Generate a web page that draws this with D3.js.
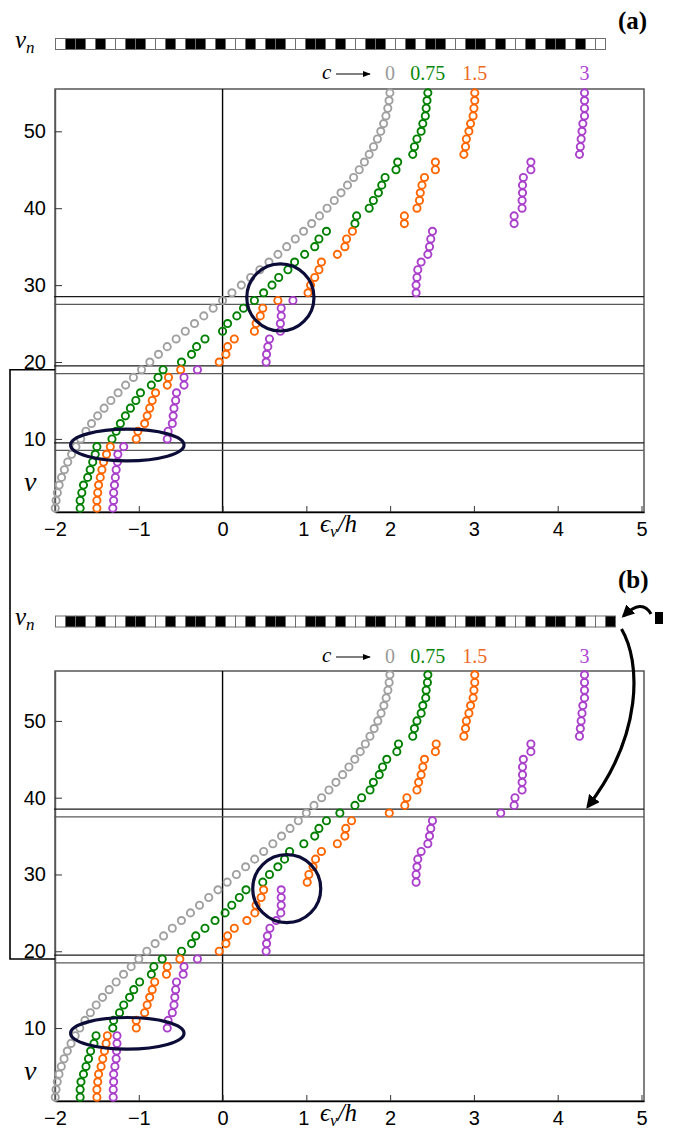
<!DOCTYPE html>
<html>
<head>
<meta charset="utf-8">
<script src="https://cdn.jsdelivr.net/npm/d3@7"></script>
<style>
  body { margin: 0; background: #fff; }
  svg text { font-family: "Liberation Sans", Arial, sans-serif; }
  .serif { font-family: "Liberation Serif", "DejaVu Serif", serif !important; }
</style>
</head>
<body>
<svg id="fig" width="675" height="1138"></svg>
<script>
// ---- potential sequences v_n (1 = black cell, 0 = white cell) ----
const cellsA = [0,1,1,0,1,0,0,1,1,0,0,1,0,1,1,0,1,0,0,1,0,1,1,0,0,1,1,0,1,0,0,1,1,0,0,1,0,1,1,0,0,1,1,0,1,0,0,1,0,1,1,0,1,0,0];
const cellsB = [0,1,1,0,1,0,0,1,1,0,0,1,0,1,1,0,1,0,0,1,0,1,1,0,0,1,1,0,1,0,0,1,1,0,0,1,0,1,1,0,0,1,1,0,1,0,0,1,0,1,1,0,1,0,0,1];

// ---- eigenvalues eps_nu / h, nu = 1..N, chain (a): N = 55 ----
const epsA_c0 = [-1.997,-1.987,-1.972,-1.950,-1.922,-1.888,-1.848,-1.802,-1.750,-1.693,-1.631,-1.564,-1.491,-1.414,-1.333,-1.247,-1.157,-1.064,-0.967,-0.868,-0.765,-0.661,-0.554,-0.445,-0.335,-0.224,-0.112,0.000,0.112,0.224,0.335,0.445,0.554,0.661,0.765,0.868,0.967,1.064,1.157,1.247,1.333,1.414,1.491,1.564,1.631,1.693,1.750,1.802,1.848,1.888,1.922,1.950,1.972,1.987,1.997];
const epsA_c075 = [-1.70,-1.70,-1.68,-1.66,-1.61,-1.58,-1.55,-1.52,-1.50,-1.32,-1.27,-1.22,-1.16,-1.10,-1.035,-0.98,-0.85,-0.77,-0.71,-0.49,-0.37,-0.31,-0.21,0.00,0.06,0.17,0.25,0.38,0.49,0.59,0.67,0.78,0.86,0.98,1.10,1.15,1.24,1.58,1.60,1.75,1.80,1.86,1.90,1.94,2.07,2.09,2.27,2.29,2.32,2.37,2.39,2.42,2.43,2.44,2.45];
const epsA_c15 = [-1.50,-1.50,-1.49,-1.48,-1.46,-1.44,-1.42,-1.385,-1.34,-1.03,-1.01,-0.93,-0.90,-0.87,-0.84,-0.80,-0.66,-0.645,-0.50,-0.04,0.04,0.06,0.14,0.38,0.40,0.45,0.48,0.66,1.02,1.05,1.10,1.15,1.18,1.37,1.46,1.48,1.55,2.17,2.17,2.32,2.35,2.36,2.38,2.41,2.54,2.54,2.88,2.90,2.91,2.94,2.96,2.99,3.00,3.01,3.01];
const epsA_c3 = [-1.31,-1.30,-1.30,-1.29,-1.28,-1.27,-1.255,-1.25,-1.18,-0.66,-0.65,-0.60,-0.59,-0.58,-0.56,-0.55,-0.46,-0.46,-0.30,0.52,0.525,0.54,0.56,0.69,0.69,0.70,0.70,0.84,2.31,2.31,2.32,2.33,2.37,2.45,2.47,2.485,2.505,3.48,3.48,3.575,3.575,3.58,3.58,3.59,3.68,3.68,4.26,4.27,4.28,4.29,4.30,4.32,4.32,4.32,4.32];

// ---- chain (b): N = 56, one black site appended ----
const epsB_c0 = [-1.997,-1.988,-1.973,-1.952,-1.925,-1.892,-1.853,-1.809,-1.759,-1.704,-1.643,-1.578,-1.508,-1.433,-1.353,-1.270,-1.182,-1.091,-1.000,-0.904,-0.805,-0.704,-0.600,-0.491,-0.383,-0.275,-0.165,-0.055,0.055,0.165,0.275,0.383,0.491,0.600,0.704,0.805,0.904,1.000,1.091,1.182,1.270,1.353,1.433,1.508,1.578,1.643,1.704,1.759,1.809,1.853,1.892,1.925,1.952,1.973,1.988,1.997];
const epsB_c075 = [-1.70,-1.70,-1.69,-1.66,-1.63,-1.60,-1.575,-1.535,-1.51,-1.31,-1.30,-1.23,-1.18,-1.11,-1.06,-0.99,-0.85,-0.82,-0.72,-0.49,-0.37,-0.32,-0.21,-0.09,0.03,0.11,0.20,0.28,0.48,0.56,0.66,0.74,0.80,0.97,1.10,1.15,1.24,1.40,1.58,1.66,1.76,1.80,1.87,1.91,1.96,2.08,2.10,2.27,2.29,2.32,2.37,2.39,2.425,2.43,2.445,2.45];
const epsB_c15 = [-1.50,-1.50,-1.49,-1.48,-1.45,-1.43,-1.41,-1.39,-1.375,-1.03,-1.03,-0.93,-0.90,-0.87,-0.84,-0.81,-0.67,-0.66,-0.51,-0.04,0.04,0.06,0.14,0.29,0.385,0.40,0.46,0.49,1.01,1.03,1.08,1.11,1.18,1.37,1.46,1.47,1.54,1.99,2.175,2.20,2.32,2.34,2.37,2.39,2.41,2.54,2.55,2.88,2.90,2.91,2.94,2.96,2.99,3.00,3.01,3.01];
const epsB_c3 = [-1.305,-1.305,-1.30,-1.30,-1.285,-1.27,-1.265,-1.26,-1.26,-0.66,-0.65,-0.60,-0.58,-0.57,-0.56,-0.55,-0.47,-0.46,-0.30,0.52,0.525,0.535,0.565,0.64,0.695,0.70,0.70,0.70,2.31,2.31,2.32,2.33,2.37,2.45,2.47,2.485,2.505,3.32,3.48,3.49,3.575,3.575,3.58,3.58,3.59,3.68,3.68,4.26,4.27,4.28,4.29,4.30,4.32,4.32,4.32,4.32];

// ---- labels and ticks ----
const cLabels = ["0", "0.75", "1.5", "3"];
const xTicks = [-2, -1, 0, 1, 2, 3, 4, 5];
const yTicks = [10, 20, 30, 40, 50];
const cutsA = [28.5, 27.5, 19.5, 18.5, 9.5, 8.5];
const cutsB = [38.5, 37.5, 19.5, 18.5];

const seriesColors = ["#a0a0a0", "#008000", "#ff6600", "#aa3fcc"];
const labelColors  = ["#9a9a9a", "#0a870a", "#ec6a1e", "#b044d4"];

const svg = d3.select("#fig");
const x = d3.scaleLinear().domain([-2, 5.03]).range([55, 644]);
const intFmt = d => (d < 0 ? "\u2212" : "") + Math.abs(d);

const panels = [
  { tag: "(a)", tagY: 29, barY: 38.5, legendY: 73, top: 89, bottom: 512, cells: cellsA,
    series: [epsA_c0, epsA_c075, epsA_c15, epsA_c3], cuts: cutsA,
    ring: { e: 0.69, n: 28.4, r: 33.6 }, oval: { e: -1.137, n: 9.21, rx: 56.7, ry: 15.8 } },
  { tag: "(b)", tagY: 588, barY: 616, legendY: 656, top: 671, bottom: 1101, cells: cellsB,
    series: [epsB_c0, epsB_c075, epsB_c15, epsB_c3], cuts: cutsB,
    ring: { e: 0.766, n: 28.15, r: 34 }, oval: { e: -1.137, n: 9.32, rx: 56.7, ry: 15.8 } }
];

// arrowhead markers
const defs = svg.append("defs");
defs.append("marker").attr("id", "head").attr("viewBox", "0 0 10 10")
  .attr("refX", 8).attr("refY", 5).attr("markerWidth", 4.2).attr("markerHeight", 4.2)
  .attr("orient", "auto").attr("markerUnits", "strokeWidth")
  .append("path").attr("d", "M0,0 L10,5 L0,10 Z").attr("fill", "#000");
defs.append("marker").attr("id", "thin").attr("viewBox", "0 0 10 10")
  .attr("refX", 9).attr("refY", 5).attr("markerWidth", 8).attr("markerHeight", 8)
  .attr("orient", "auto").attr("markerUnits", "userSpaceOnUse")
  .append("path").attr("d", "M0,1 L10,5 L0,9 Z").attr("fill", "#000");

const yScales = [];

panels.forEach(p => {
  const N = p.series[0].length;
  const y = d3.scaleLinear().domain([0.5, N + 0.5]).range([p.bottom, p.top]);
  yScales.push(y);
  const g = svg.append("g");

  // panel tag
  g.append("text").attr("class", "serif").attr("x", 618).attr("y", p.tagY)
    .attr("font-size", 25).attr("font-weight", "bold").text(p.tag);

  // v_n cell bar
  const bx = d3.scaleLinear().domain([0, p.cells.length]).range([55.5, 55.5 + 10 * p.cells.length]);
  g.append("text").attr("class", "serif").attr("x", 15).attr("y", p.barY + 9)
    .attr("font-size", 25).attr("font-style", "italic")
    .text("v").append("tspan").attr("font-size", 17).attr("dy", 5).text("n");
  g.selectAll("rect.cell").data(p.cells).join("rect").attr("class", "cell")
    .attr("x", (d, i) => bx(i)).attr("y", p.barY)
    .attr("width", bx(1) - bx(0)).attr("height", 11)
    .attr("fill", d => d ? "#000" : "#fff")
    .attr("stroke", "#6e6e6e").attr("stroke-width", 1);

  // legend: c -> values
  g.append("text").attr("class", "serif").attr("x", 322).attr("y", p.legendY + 6)
    .attr("font-size", 21).attr("font-style", "italic").text("c");
  g.append("line").attr("x1", 336).attr("x2", 370).attr("y1", p.legendY + 1).attr("y2", p.legendY + 1)
    .attr("stroke", "#000").attr("stroke-width", 1.1).attr("marker-end", "url(#thin)");
  g.selectAll("text.cval").data(cLabels).join("text").attr("class", "cval serif")
    .attr("x", (d, i) => x(p.series[i][N - 1])).attr("y", p.legendY + 7)
    .attr("text-anchor", "middle").attr("font-size", 20)
    .attr("fill", (d, i) => labelColors[i]).text(d => d);

  // frame
  g.append("rect").attr("x", x(-2)).attr("y", p.top)
    .attr("width", 644 - x(-2)).attr("height", p.bottom - p.top)
    .attr("fill", "none").attr("stroke", "#4a4a4a").attr("stroke-width", 1.4);

  // eps = 0 line
  g.append("line").attr("x1", x(0)).attr("x2", x(0)).attr("y1", p.top).attr("y2", p.bottom)
    .attr("stroke", "#000").attr("stroke-width", 1.4);

  // axes
  const xa = g.append("g").attr("transform", `translate(0,${p.bottom})`)
    .call(d3.axisBottom(x).tickValues(xTicks).tickFormat(intFmt)
      .tickSizeInner(-6).tickSizeOuter(0).tickPadding(10));
  xa.select(".domain").attr("stroke", "#000").attr("stroke-width", 1.4);
  xa.selectAll("text").attr("font-size", 20).attr("fill", "#000")
    .style("font-family", "'Liberation Sans', Arial, sans-serif");
  xa.selectAll(".tick line").attr("stroke", "#333");
  xa.selectAll(".tick").filter(d => d === 1).select("text").attr("dx", -3);

  const ya = g.append("g").attr("transform", `translate(${x(-2)},0)`)
    .call(d3.axisLeft(y).tickValues(yTicks).tickSizeInner(-7).tickSizeOuter(0).tickPadding(9));
  ya.select(".domain").attr("stroke", "#555").attr("stroke-width", 1.4);
  ya.selectAll("text").attr("font-size", 20).attr("fill", "#000")
    .style("font-family", "'Liberation Sans', Arial, sans-serif");
  ya.selectAll(".tick line").attr("stroke", "#333");

  // axis titles
  const xt = g.append("text").attr("class", "serif").attr("x", 320).attr("y", p.bottom + 20)
    .attr("font-size", 25).attr("font-style", "italic");
  xt.append("tspan").text("\u03F5");
  xt.append("tspan").attr("font-size", 17).attr("dy", 5).text("\u03BD");
  xt.append("tspan").attr("dy", -5).text("/h");
  g.append("text").attr("class", "serif").attr("x", 24).attr("y", y(3.2))
    .attr("font-size", 28).attr("font-style", "italic").text("\u03BD");

  // horizontal level cuts
  g.selectAll("line.cut").data(p.cuts).join("line").attr("class", "cut")
    .attr("x1", x(-2) - 1).attr("x2", 644).attr("y1", d => y(d)).attr("y2", d => y(d))
    .attr("stroke", (d, i) => i % 2 ? "#5a5a5a" : "#1a1a1a").attr("stroke-width", 1.2);

  // eigenvalue markers
  p.series.forEach((vals, si) => {
    g.append("g").selectAll("circle").data(vals).join("circle")
      .attr("cx", d => x(d)).attr("cy", (d, i) => y(i + 1)).attr("r", 3.6)
      .attr("fill", "none").attr("stroke", seriesColors[si]).attr("stroke-width", 1.9);
  });

  // highlight ring and oval
  g.append("circle").attr("cx", x(p.ring.e)).attr("cy", y(p.ring.n)).attr("r", p.ring.r)
    .attr("fill", "none").attr("stroke", "#0c0c38").attr("stroke-width", 3.2);
  g.append("ellipse").attr("cx", x(p.oval.e)).attr("cy", y(p.oval.n))
    .attr("rx", p.oval.rx).attr("ry", p.oval.ry)
    .attr("fill", "none").attr("stroke", "#0c0c38").attr("stroke-width", 3.2);
});

// bracket joining level 19 of both chains
const yA19 = yScales[0](19), yB19 = yScales[1](19);
svg.append("path").attr("d", `M${x(-2)},${yA19} H10 V${yB19} H${x(-2)}`)
  .attr("fill", "none").attr("stroke", "#000").attr("stroke-width", 1.6);

// appended site in chain (b) and arrows
const barEnd = 55.5 + 10 * cellsB.length;
svg.append("rect").attr("x", 655).attr("y", 612).attr("width", 8).attr("height", 12).attr("fill", "#000");
svg.append("path").attr("d", `M651,614 Q642,598 ${barEnd + 8},616`)
  .attr("fill", "none").attr("stroke", "#000").attr("stroke-width", 3).attr("marker-end", "url(#head)");
svg.append("path").attr("d", `M${barEnd + 6},629 C641,662 643,735 ${x(4.36)},${yScales[1](38.85)}`)
  .attr("fill", "none").attr("stroke", "#000").attr("stroke-width", 3.2).attr("marker-end", "url(#head)");
</script>
</body>
</html>
